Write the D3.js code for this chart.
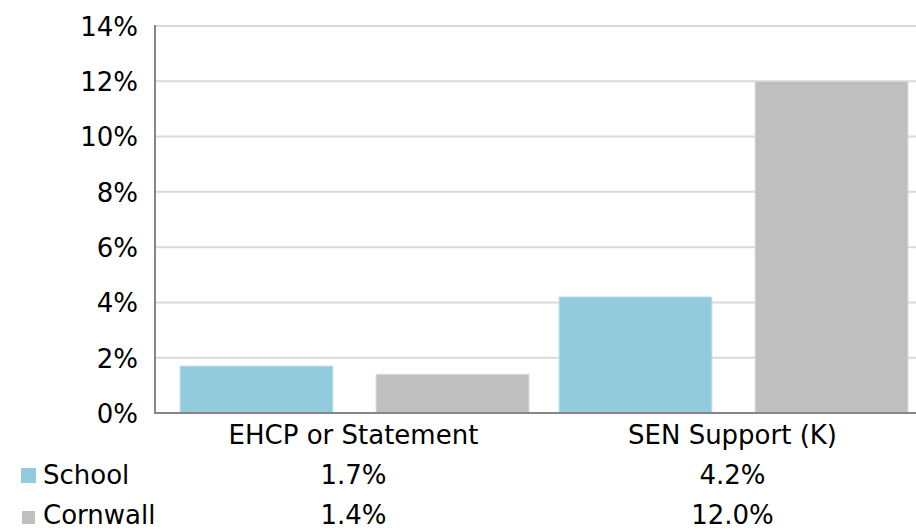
<!DOCTYPE html>
<html>
<head>
<meta charset="utf-8">
<script src="https://cdn.jsdelivr.net/npm/d3@7"></script>
<style>
  html, body { margin: 0; padding: 0; background: #fff; }
  svg { display: block; font-family: "DejaVu Sans", Verdana, sans-serif; }
</style>
</head>
<body>
<svg id="the-chart"></svg>
<script>
// Chart dimensions
const width = 916;
const height = 530;

// Data
const categories = ["EHCP or Statement", "SEN Support (K)"];
const seriesNames = ["School", "Cornwall"];
const schoolValues = [1.7, 4.2];
const cornwallValues = [1.4, 12.0];
const yTickValues = [0, 2, 4, 6, 8, 10, 12, 14];

// Visual constants
const SERIES_COLORS = ["#92cbdc", "#bfbfbf"];
const SERIES_STROKES = ["#c6e5ee", "#dcdcdc"];
const GRID_COLOR = "#d9d9d9";
const AXIS_COLOR = "#868686";
const FONT_SIZE = 26;

const plotLeft = 155;
const plotTop = 26;
const plotBottom = 413;

const values = [schoolValues, cornwallValues];
const rows = categories.map((c, i) => ({
    category: c,
    values: seriesNames.map((s, j) => ({ series: s, index: j, value: values[j][i] }))
}));

const svg = d3.select("#the-chart")
    .attr("width", width)
    .attr("height", height)
    .attr("viewBox", [0, 0, width, height]);

const y = d3.scaleLinear().domain([0, 14]).range([plotBottom, plotTop]);

const x = d3.scaleBand().domain(categories).range([164, 922]).padding(0);
const xInner = d3.scaleBand().domain(seriesNames)
    .range([16, x.bandwidth() - 14])
    .paddingInner(0.22);

// Gridlines
svg.append("g")
    .selectAll("line")
    .data(yTickValues.filter(d => d > 0))
    .join("line")
        .attr("x1", plotLeft)
        .attr("x2", width)
        .attr("y1", d => y(d))
        .attr("y2", d => y(d))
        .attr("stroke", GRID_COLOR)
        .attr("stroke-width", 2);

// Y axis labels
const yAxis = d3.axisLeft(y)
    .tickValues(yTickValues)
    .tickFormat(d => d + "%")
    .tickSize(0)
    .tickPadding(17);

svg.append("g")
    .attr("transform", `translate(${plotLeft},0)`)
    .call(yAxis)
    .call(g => g.select(".domain").remove())
    .call(g => g.selectAll("text")
        .attr("font-size", FONT_SIZE)
        .attr("font-family", "DejaVu Sans, Verdana, sans-serif")
        .attr("dy", "0.36em")
        .attr("fill", "#000"));

// Bars
svg.append("g")
    .selectAll("g")
    .data(rows)
    .join("g")
        .attr("transform", d => `translate(${x(d.category)},0)`)
    .selectAll("rect")
    .data(d => d.values)
    .join("rect")
        .attr("x", d => xInner(d.series))
        .attr("y", d => y(d.value))
        .attr("width", xInner.bandwidth())
        .attr("height", d => y(0) - y(d.value))
        .attr("fill", d => SERIES_COLORS[d.index])
        .attr("stroke", d => SERIES_STROKES[d.index])
        .attr("stroke-width", 1);

// Axis lines
svg.append("line")
    .attr("x1", plotLeft).attr("x2", plotLeft)
    .attr("y1", plotTop - 1).attr("y2", plotBottom + 1)
    .attr("stroke", AXIS_COLOR)
    .attr("stroke-width", 2);

svg.append("line")
    .attr("x1", plotLeft - 1).attr("x2", width)
    .attr("y1", plotBottom).attr("y2", plotBottom)
    .attr("stroke", AXIS_COLOR)
    .attr("stroke-width", 2);

// Category labels
svg.append("g")
    .selectAll("text")
    .data(categories)
    .join("text")
        .attr("x", d => x(d) + x.bandwidth() / 2)
        .attr("y", 444)
        .attr("text-anchor", "middle")
        .attr("font-size", FONT_SIZE)
        .text(d => d);

// Data table rows (legend + values)
const tableRowY = [484, 524];
const legendBoxes = [{ x: 21, y: 468, size: 15 }, { x: 22, y: 511, size: 13 }];

const table = svg.append("g")
    .selectAll("g")
    .data(seriesNames)
    .join("g");

table.append("rect")
    .attr("x", (d, i) => legendBoxes[i].x)
    .attr("y", (d, i) => legendBoxes[i].y)
    .attr("width", (d, i) => legendBoxes[i].size)
    .attr("height", (d, i) => legendBoxes[i].size)
    .attr("fill", (d, i) => SERIES_COLORS[i]);

table.append("text")
    .attr("x", 43)
    .attr("y", (d, i) => tableRowY[i])
    .attr("font-size", FONT_SIZE)
    .text(d => d);

table.each(function(s, j) {
    d3.select(this).selectAll("text.val")
        .data(values[j])
        .join("text")
            .attr("class", "val")
            .attr("x", (d, i) => x(categories[i]) + x.bandwidth() / 2)
            .attr("y", tableRowY[j])
            .attr("text-anchor", "middle")
            .attr("font-size", FONT_SIZE)
            .text(d => d.toFixed(1) + "%");
});
</script>
</body>
</html>
